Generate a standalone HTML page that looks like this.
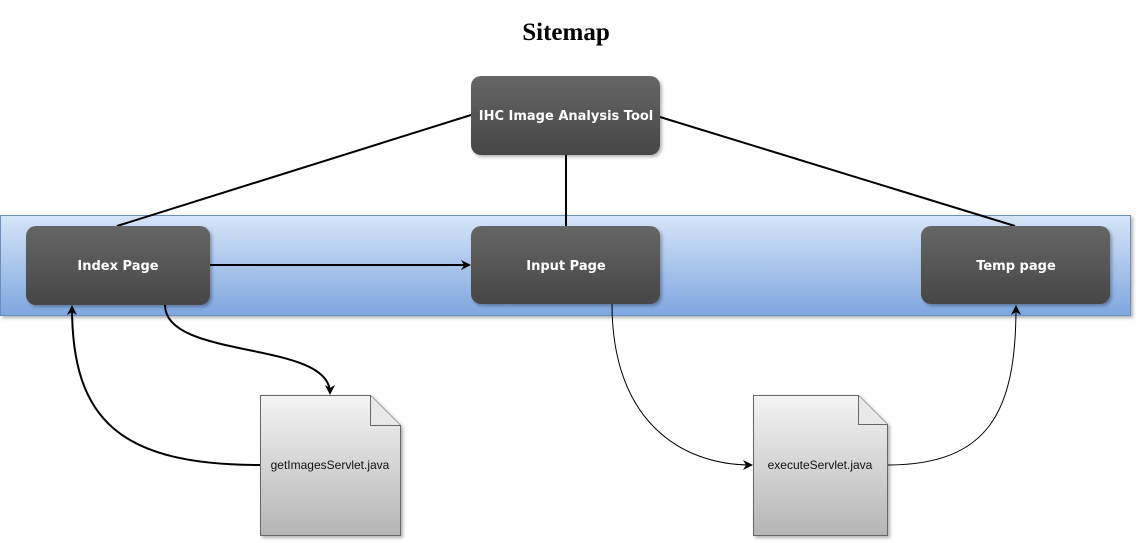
<!DOCTYPE html>
<html><head><style>body{margin:0;background:#fff}svg{display:block}</style></head><body>
<svg width="1137" height="543" xmlns="http://www.w3.org/2000/svg" font-family="Liberation Sans, sans-serif">
<defs>
<linearGradient id="band" x1="0" y1="0" x2="0" y2="1"><stop offset="0" stop-color="#d6e5f8"/><stop offset="1" stop-color="#7ea6e0"/></linearGradient>
<linearGradient id="box" x1="0" y1="0" x2="0" y2="1"><stop offset="0" stop-color="#666"/><stop offset="1" stop-color="#464646"/></linearGradient>
<linearGradient id="doc" x1="0" y1="0" x2="0" y2="1"><stop offset="0" stop-color="#f4f4f4"/><stop offset="1" stop-color="#b5b5b5"/></linearGradient>
<marker id="a" markerWidth="10" markerHeight="10" refX="8" refY="5" orient="auto" markerUnits="userSpaceOnUse"><path d="M0,0 L10,5 L0,10 L3,5z" fill="#000"/></marker>
<filter id="sh"><feDropShadow dx="2" dy="2" stdDeviation="1.5" flood-opacity="0.3"/></filter>
</defs>
<text x="566" y="40" text-anchor="middle" font-family="Liberation Serif, serif" font-weight="bold" font-size="25">Sitemap</text>
<rect x="0.5" y="215.5" width="1130" height="100" fill="url(#band)" stroke="#6c8ebf" filter="url(#sh)"/>
<g stroke="#000" stroke-width="2" fill="none">
<line x1="471" y1="115" x2="117" y2="226"/>
<line x1="660" y1="117" x2="1015" y2="226"/>
<line x1="566" y1="155" x2="566" y2="226"/>
<line x1="210" y1="265" x2="469" y2="265" marker-end="url(#a)"/>
<path d="M165,305 C165,360 330,340 330,393" marker-end="url(#a)"/>
<path d="M260,465 C120,465 72,420 72,307" marker-end="url(#a)"/>
</g>
<g stroke="#000" stroke-width="1" fill="none">
<path d="M612,304 C612,420 680,465 751,465" marker-end="url(#a)"/>
<path d="M887,465 C990,465 1016,410 1016,307" marker-end="url(#a)"/>
</g>
<g filter="url(#sh)">
<rect x="471" y="76" width="189" height="79" rx="10" fill="url(#box)"/>
<rect x="26" y="226" width="184" height="79" rx="10" fill="url(#box)"/>
<rect x="471" y="226" width="189" height="78" rx="10" fill="url(#box)"/>
<rect x="921" y="226" width="189" height="78" rx="10" fill="url(#box)"/>
<path d="M260.5,395.5 H370.5 L400.5,425.5 V535.5 H260.5z" fill="url(#doc)" stroke="#666"/>
<path d="M753.5,395.5 H858.5 L887.5,424.5 V535.5 H753.5z" fill="url(#doc)" stroke="#666"/>
</g>
<path d="M370.5,395.5 V425.5 H400.5" fill="#e8e8e8" stroke="#666"/>
<path d="M858.5,395.5 V424.5 H887.5" fill="#e8e8e8" stroke="#666"/>
<g fill="#fff" font-family="DejaVu Sans, sans-serif" font-weight="bold" font-size="13" text-anchor="middle">
<text x="566" y="120">IHC Image Analysis Tool</text>
<text x="118" y="270">Index Page</text>
<text x="566" y="270">Input Page</text>
<text x="1016" y="270">Temp page</text>
</g>
<g font-size="12" text-anchor="middle" fill="#111">
<text x="330" y="469">getImagesServlet.java</text>
<text x="820" y="469">executeServlet.java</text>
</g>
</svg>
</body></html>
